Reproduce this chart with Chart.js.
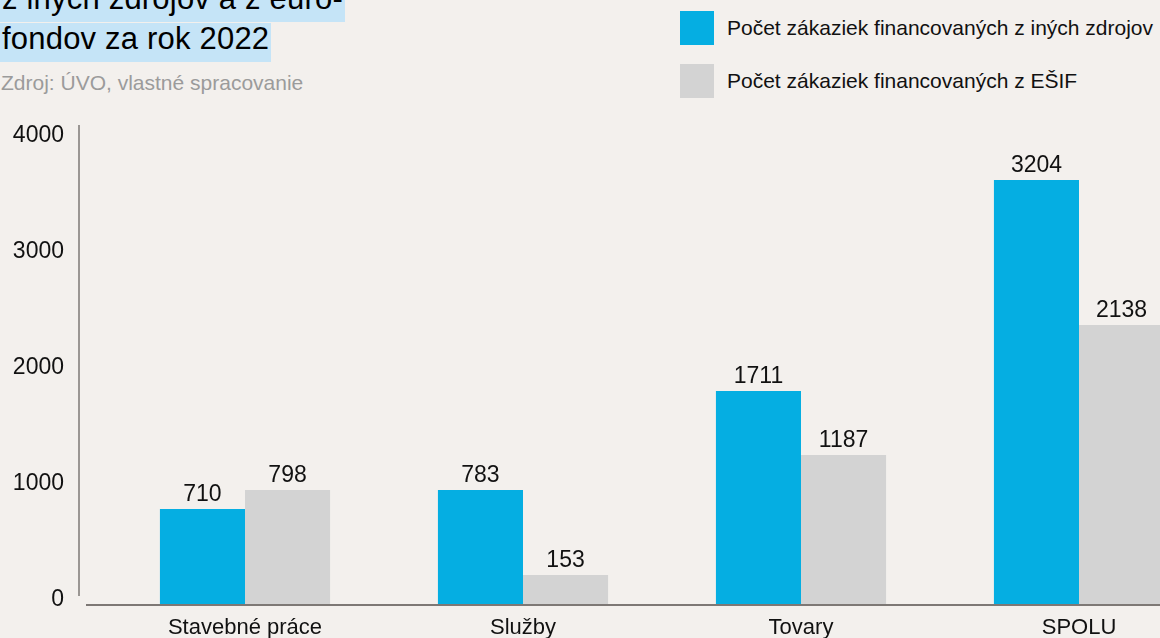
<!DOCTYPE html>
<html>
<head>
<meta charset="utf-8">
<script src="https://cdn.jsdelivr.net/npm/chart.js@4.4.1/dist/chart.umd.min.js"></script>
<style>
	html, body { margin: 0; padding: 0; background: #f3f0ed; }
	body { width: 1160px; height: 638px; overflow: hidden; position: relative; font-family: "Liberation Sans", Arial, sans-serif; color: #111; }
	#chartBox { position: absolute; left: 0; top: 0; width: 1218px; height: 638px; }
	#title { position: absolute; left: 0; top: -17px; }
	#title div { margin-bottom: 1px; }
	#title span { display: inline-block; background: #c5e4f7; font-size: 31px; line-height: 32px; padding: 0 2px 7px 2px; color: #000; letter-spacing: 0.2px; }
	#source { position: absolute; left: 1px; top: 71px; font-size: 21px; line-height: 24px; color: #9b9b9b; }
	#legend { position: absolute; left: 680px; top: 11px; }
	.item { display: flex; align-items: center; height: 34px; margin-bottom: 19px; font-size: 21px; }
	.item i { display: inline-block; width: 34px; height: 34px; margin-right: 13px; }
</style>
</head>
<body>
<div id="title"><div><span>z iných zdrojov a z euro-</span></div><div><span>fondov za rok 2022</span></div></div>
<div id="source">Zdroj: ÚVO, vlastné spracovanie</div>
<div id="legend"></div>
<div id="chartBox"><canvas id="myChart" width="1218" height="638"></canvas></div>

<script>
// categories
const categories = ["Stavebné práce", "Služby", "Tovary", "SPOLU"];

// series names
const seriesOther = "Počet zákaziek financovaných z iných zdrojov";
const seriesEsif = "Počet zákaziek financovaných z EŠIF";

// bar heights as drawn in the picture
const barsOther = [819, 983, 1836, 3655];
const barsEsif = [983, 250, 1284, 2405];

// value labels printed above the bars
const labelsOther = [710, 783, 1711, 3204];
const labelsEsif = [798, 153, 1187, 2138];

// y axis ticks
const yTicks = [0, 1000, 2000, 3000, 4000];

const colors = ["#05aee2", "#d3d3d3"];

// legend (html, built from the series)
function buildLegend(names, cols){
	let legend = document.getElementById("legend");
	for(let i = 0; i < names.length; i++){
		let row = document.createElement("div");
		row.className = "item";
		let box = document.createElement("i");
		box.style.background = cols[i];
		row.appendChild(box);
		row.appendChild(document.createTextNode(names[i]));
		legend.appendChild(row);
	}
}

// numbers above bars
const valueLabels = {
	id: "valueLabels",
	afterDatasetsDraw(chart){
		const ctx = chart.ctx;
		ctx.save();
		ctx.font = "23px 'Liberation Sans', Arial, sans-serif";
		ctx.fillStyle = "#111";
		ctx.textAlign = "center";
		ctx.textBaseline = "alphabetic";
		chart.data.datasets.forEach((ds, i) => {
			chart.getDatasetMeta(i).data.forEach((bar, j) => {
				ctx.fillText(String(ds.valueLabels[j]), bar.x, bar.y - 8);
			});
		});
		ctx.restore();
	}
};

// the two axis lines, detached from each other like in the source
const axisLines = {
	id: "axisLines",
	beforeDatasetsDraw(chart){
		const ctx = chart.ctx;
		const area = chart.chartArea;
		const y = chart.scales.y;
		ctx.save();
		ctx.strokeStyle = "#7d7875";
		ctx.lineWidth = 1.5;
		ctx.beginPath();
		ctx.moveTo(area.left - 27, y.getPixelForValue(yTicks[yTicks.length - 1]) - 15);
		ctx.lineTo(area.left - 27, y.getPixelForValue(0) - 8);
		ctx.stroke();
		ctx.lineWidth = 2;
		ctx.beginPath();
		ctx.moveTo(area.left - 20, y.getPixelForValue(0) + 1);
		ctx.lineTo(area.right, y.getPixelForValue(0) + 1);
		ctx.stroke();
		ctx.restore();
	}
};

function makeChart(){
	const ctx = document.getElementById("myChart").getContext("2d");

	let data = {
		labels: categories,
		datasets: [
			{ label: seriesOther, data: barsOther, valueLabels: labelsOther, backgroundColor: colors[0] },
			{ label: seriesEsif, data: barsEsif, valueLabels: labelsEsif, backgroundColor: colors[1] }
		]
	};

	let options = {
		responsive: false,
		animation: false,
		devicePixelRatio: 1,
		layout: { padding: { top: 140, left: 0, right: 0, bottom: 0 } },
		datasets: { bar: { categoryPercentage: 0.612, barPercentage: 1, borderWidth: 0 } },
		plugins: { legend: { display: false }, tooltip: { enabled: false } },
		scales: {
			x: {
				grid: { display: false, drawTicks: false },
				border: { display: false },
				ticks: { color: "#111", font: { family: "'Liberation Sans', Arial, sans-serif", size: 22 }, padding: 11, maxRotation: 0 },
				afterFit(scale){ scale.height = 34; }
			},
			y: {
				min: 0,
				max: 4000,
				// tick marks are not drawn, their length only pushes the labels left
				grid: { display: false, drawTicks: true, tickLength: 42 },
				border: { display: false },
				afterBuildTicks(scale){ scale.ticks = yTicks.map(v => ({ value: v })); },
				ticks: {
					color: "#111",
					font: { family: "'Liberation Sans', Arial, sans-serif", size: 23 },
					padding: 0,
					labelOffset: -4,
					callback: v => String(v)
				},
				afterFit(scale){ scale.width = 106; }
			}
		}
	};

	return new Chart(ctx, { type: "bar", data: data, options: options, plugins: [axisLines, valueLabels] });
}

buildLegend([seriesOther, seriesEsif], colors);
makeChart();
</script>
</body>
</html>
